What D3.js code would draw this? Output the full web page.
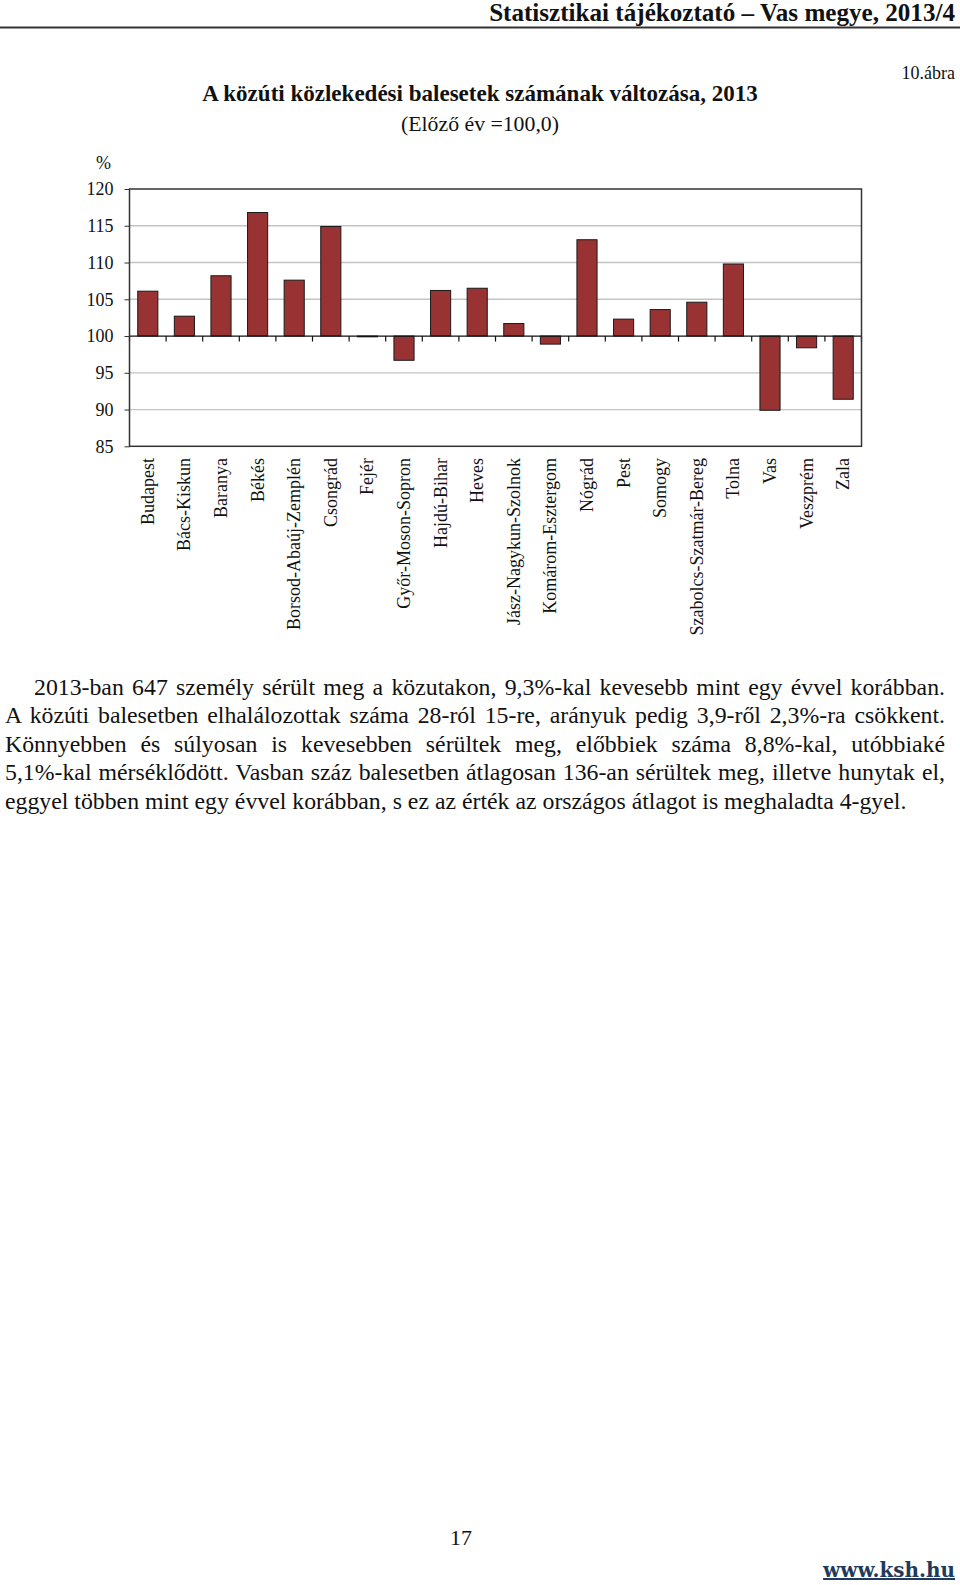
<!DOCTYPE html>
<html><head><meta charset="utf-8">
<script src="https://cdn.jsdelivr.net/npm/d3@7"></script>
<style>body{margin:0;background:#fff}svg{display:block}</style>
</head><body>
<script>
// ---- data ----
const categories = ["Budapest","Bács-Kiskun","Baranya","Békés","Borsod-Abaúj-Zemplén","Csongrád","Fejér","Győr-Moson-Sopron","Hajdú-Bihar","Heves","Jász-Nagykun-Szolnok","Komárom-Esztergom","Nógrád","Pest","Somogy","Szabolcs-Szatmár-Bereg","Tolna","Vas","Veszprém","Zala"];
const values = [106.1,102.7,108.2,116.8,107.6,114.9,99.9,96.7,106.2,106.5,101.7,98.9,113.1,102.3,103.6,104.6,109.8,89.9,98.4,91.4];
const yTicks = [85,90,95,100,105,110,115,120];
const yUnit = "%";
const headerText = "Statisztikai tájékoztató – Vas megye, 2013/4";
const figLabel = "10.ábra";
const titleText = "A közúti közlekedési balesetek számának változása, 2013";
const subtitleText = "(Előző év =100,0)";
const paragraphLines = [
  "2013-ban 647 személy sérült meg a közutakon, 9,3%-kal kevesebb mint egy évvel korábban.",
  "A közúti balesetben elhalálozottak száma 28-ról 15-re, arányuk pedig 3,9-ről 2,3%-ra csökkent.",
  "Könnyebben és súlyosan is kevesebben sérültek meg, előbbiek száma 8,8%-kal, utóbbiaké",
  "5,1%-kal mérséklődött. Vasban száz balesetben átlagosan 136-an sérültek meg, illetve hunytak el,",
  "eggyel többen mint egy évvel korábban, s ez az érték az országos átlagot is meghaladta 4-gyel."
];
const pageNumber = "17";
const siteUrl = "www.ksh.hu";

// ---- drawing ----
(function () {
const W = 960, H = 1585;
const serif = "'Liberation Serif','Times New Roman',serif";
const svg = d3.select("body").append("svg").attr("width", W).attr("height", H)
  .style("font-family", serif);

function fitWidth(sel, target) {
  const w = sel.node().getComputedTextLength();
  const fs = parseFloat(sel.attr("font-size"));
  sel.attr("font-size", fs * target / w);
}

// header
const hdr = svg.append("text").attr("x", 955).attr("y", 21).attr("text-anchor", "end")
  .attr("font-size", 22).attr("font-weight", "bold").attr("fill", "#111").text(headerText);
fitWidth(hdr, 466);
svg.append("line").attr("x1", 0).attr("x2", W).attr("y1", 27.5).attr("y2", 27.5)
  .attr("stroke", "#333").attr("stroke-width", 2);

svg.append("text").attr("x", 955).attr("y", 79).attr("text-anchor", "end")
  .attr("font-size", 18).attr("fill", "#111").text(figLabel);

const ttl = svg.append("text").attr("x", 480).attr("y", 101).attr("text-anchor", "middle")
  .attr("font-size", 19).attr("font-weight", "bold").attr("fill", "#111").text(titleText);
fitWidth(ttl, 556);
const sub = svg.append("text").attr("x", 480).attr("y", 131).attr("text-anchor", "middle")
  .attr("font-size", 19).attr("fill", "#111").text(subtitleText);
fitWidth(sub, 158);

// chart
const pL = 129.5, pR = 861.5, pT = 189, pB = 446.3;
const x = d3.scaleBand().domain(categories).range([pL, pR]).paddingInner(0.45).paddingOuter(0.225);
const y = d3.scaleLinear().domain([85, 120]).range([pB, pT]);

svg.append("g").selectAll("line").data(yTicks.filter(t => t !== 85 && t !== 100 && t !== 120))
  .join("line").attr("x1", pL).attr("x2", pR).attr("y1", d => y(d)).attr("y2", d => y(d))
  .attr("stroke", "#c4c4c4").attr("stroke-width", 1.3);

const yAxis = svg.append("g").attr("transform", `translate(${pL},0)`)
  .call(d3.axisLeft(y).tickValues(yTicks).tickSize(5).tickPadding(11).tickFormat(d3.format("d")));
yAxis.select(".domain").remove();
yAxis.selectAll(".tick line").attr("stroke", "#333");
yAxis.selectAll(".tick text").attr("font-size", 18).attr("font-family", serif).attr("fill", "#111");

svg.append("text").attr("x", 96).attr("y", 169).attr("font-size", 18).attr("fill", "#111").text(yUnit);

svg.append("g").selectAll("rect").data(categories).join("rect")
  .attr("x", d => x(d))
  .attr("y", (d, i) => y(Math.max(values[i], 100)))
  .attr("width", x.bandwidth())
  .attr("height", (d, i) => Math.max(0.8, Math.abs(y(values[i]) - y(100))))
  .attr("fill", "#993333").attr("stroke", "#1a1a1a").attr("stroke-width", 1);

// category axis at 100
svg.append("g").attr("transform", `translate(0,${y(100)})`)
  .call(d3.axisBottom(x).tickSize(0).tickFormat(""))
  .call(g => g.select(".domain").attr("stroke", "#111").attr("stroke-width", 1.3).attr("d", `M${pL},0H${pR}`));
const bounds = categories.map(c => x(c) + x.bandwidth() / 2 - x.step() / 2).concat([pR]);
svg.append("g").selectAll("line").data(bounds).join("line")
  .attr("x1", d => d).attr("x2", d => d).attr("y1", y(100)).attr("y2", y(100) + 5.5)
  .attr("stroke", "#111").attr("stroke-width", 1.2);

svg.append("rect").attr("x", pL).attr("y", pT).attr("width", pR - pL).attr("height", pB - pT)
  .attr("fill", "none").attr("stroke", "#333").attr("stroke-width", 1.5);

svg.append("g").selectAll("text").data(categories).join("text")
  .attr("transform", d => `translate(${x(d) + x.bandwidth() / 2},458) rotate(-90)`)
  .attr("text-anchor", "end").attr("dominant-baseline", "central")
  .attr("font-size", 18).attr("fill", "#111").text(d => d);

// paragraph
const lineX = [34, 5, 5, 5, 5];
const baseY = 695, lineH = 28.4, rightEdge = 945;
const probe = svg.append("text").attr("font-size", 20).text(paragraphLines[4]);
const pfs = 20 * (907 - 5) / probe.node().getComputedTextLength();
probe.remove();
paragraphLines.forEach((ln, i) => {
  const t = svg.append("text").attr("x", lineX[i]).attr("y", baseY + i * lineH)
    .attr("font-size", pfs).attr("fill", "#111").text(ln);
  if (i < paragraphLines.length - 1) {
    const w = t.node().getComputedTextLength();
    const spaces = (ln.match(/ /g) || []).length;
    t.attr("word-spacing", (rightEdge - lineX[i] - w) / spaces);
  }
});

// footer
svg.append("text").attr("x", 461).attr("y", 1545).attr("text-anchor", "middle")
  .attr("font-size", 22).attr("fill", "#111").text(pageNumber);
const url = svg.append("text").attr("x", 955).attr("y", 1577).attr("text-anchor", "end")
  .attr("font-family", "'DejaVu Serif',serif").attr("font-weight", "bold")
  .attr("font-size", 18).attr("fill", "#1f3a5c").attr("text-decoration", "underline").text(siteUrl);
fitWidth(url, 132);
})();
</script>
</body></html>
